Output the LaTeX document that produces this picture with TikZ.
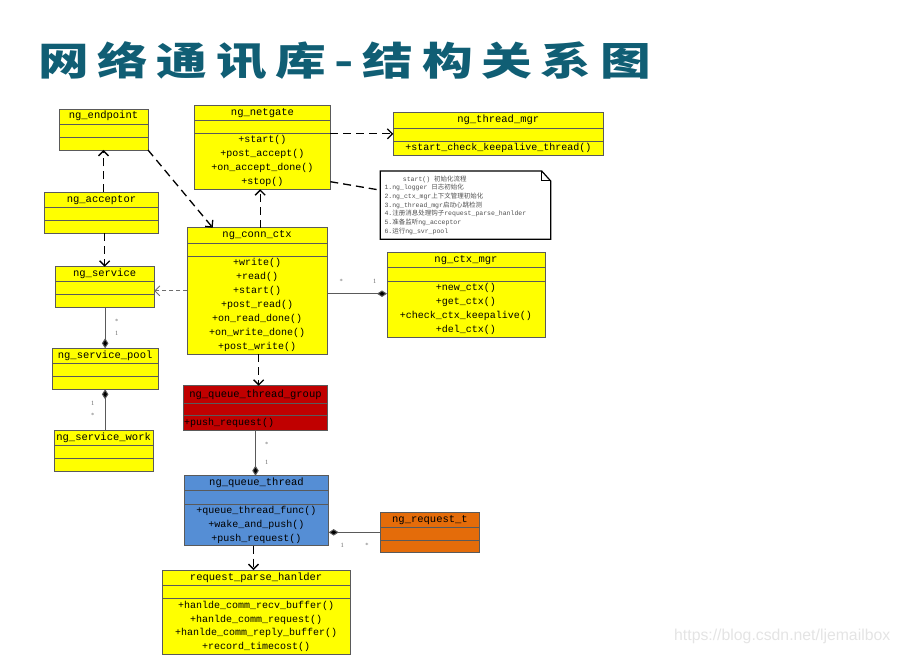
\documentclass[tikz,border=0pt]{standalone}
\usepackage{fontspec}
\setmainfont{Liberation Serif}
\newfontfamily\cjk{Noto Sans CJK SC}
\newfontfamily\titlefont{Noto Sans CJK SC}[LetterSpace=17]
\newfontfamily\monof{Liberation Mono}
\newfontfamily\wmfont{Liberation Sans}
\usetikzlibrary{arrows.meta}
\definecolor{titlecol}{RGB}{16,94,116}
\definecolor{boxline}{RGB}{90,90,90}
\definecolor{clsyellow}{RGB}{255,255,0}
\definecolor{clsred}{RGB}{192,0,0}
\definecolor{clsblue}{RGB}{85,142,213}
\definecolor{clsorange}{RGB}{228,108,10}
\definecolor{multcol}{RGB}{110,110,110}
\definecolor{notetext}{RGB}{80,80,80}
\tikzset{
  umlbox/.style={draw=boxline, line width=0.9pt, inner sep=0pt, outer sep=0pt},
  umlrule/.style={draw=boxline, line width=0.9pt},
  umlhead/.style={font=\monof\fontsize{10.5}{12}\selectfont, inner sep=0pt, text height=7.5pt, text depth=2.5pt},
  umlmeth/.style={font=\monof\fontsize{10}{12}\selectfont, inner sep=0pt, text height=7.5pt, text depth=2.5pt},
  notetxt/.style={font=\monof\fontsize{6.5}{8}\selectfont, text=notetext, inner sep=0pt, anchor=west, text height=5pt, text depth=1.5pt},
  mult/.style={font=\fontsize{6.5}{7}\selectfont, text=multcol, inner sep=0pt},
  dep/.style={draw=black, line width=1.3pt, dash pattern=on 8pt off 5pt, -{Straight Barb[length=5pt,width=10pt]}},
  depthin/.style={draw=multcol, line width=0.8pt, dash pattern=on 4pt off 3pt, -{Straight Barb[length=5pt,width=10pt]}},
  comp/.style={draw=boxline, line width=1pt, {Diamond[length=10pt,width=6.5pt,fill=black]}-},
  notelink/.style={draw=black, line width=1.3pt, dash pattern=on 8pt off 5pt},
}
\newcommand\UMLclass[9]{%
  \node[umlbox, fill=#8, minimum width={(#4)-(#2)}, minimum height={(#5)-(#3)}] (#1) at ({((#2)+(#4))/2},{((#3)+(#5))/2}) {};
  \draw[umlrule] (#2,#6) -- (#4,#6) (#2,#7) -- (#4,#7);
  \node[umlhead] (#1-h) at ({((#2)+(#4))/2},{((#3)+(#6))/2}) {#9};
}
\newcommand\UMLmethods[5]{%
  \foreach \m [count=\i from 0] in {#5} \node[umlmeth] (#1-m\i) at (#2,{#3+#4*\i}) {\m};
}
\begin{document}
\begin{tikzpicture}[x=1pt,y=-1pt]
\useasboundingbox (0,0) rectangle (900,655);

% title
\node[anchor=west, inner sep=0pt, text=titlecol, font=\titlefont\bfseries\fontsize{39}{44}\selectfont] (title) at (38,61) {\scalebox{1.3}[1]{网络通讯库-结构关系图}};

% classes
\UMLclass{ep}{59}{109}{148}{150}{124}{137}{clsyellow}{ng\_endpoint}
\UMLclass{ac}{44.7}{192.3}{158.3}{233.3}{207.3}{220.3}{clsyellow}{ng\_acceptor}
\UMLclass{sv}{55}{266.7}{154.3}{307.7}{281.7}{294.7}{clsyellow}{ng\_service}
\UMLclass{sp}{52.3}{348.3}{158}{389.3}{363.3}{376.7}{clsyellow}{ng\_service\_pool}
\UMLclass{wk}{54}{430}{153.3}{471}{445.3}{458.3}{clsyellow}{ng\_service\_work}

\UMLclass{ng}{194.7}{105.3}{330.3}{189.3}{120.3}{133.7}{clsyellow}{ng\_netgate}
\UMLmethods{ng}{262.5}{140}{13.9}{+start(),+post\_accept(),+on\_accept\_done(),+stop()}

\UMLclass{cc}{187.3}{227.7}{327}{354}{243.3}{256}{clsyellow}{ng\_conn\_ctx}
\UMLmethods{cc}{257.2}{262.7}{14}{+write(),+read(),+start(),+post\_read(),+on\_read\_done(),+on\_write\_done(),+post\_write()}

\UMLclass{tm}{393.3}{112.7}{603.3}{155}{128.3}{141.7}{clsyellow}{ng\_thread\_mgr}
\UMLmethods{tm}{498.3}{148.3}{14}{+start\_check\_keepalive\_thread()}

\UMLclass{cm}{387}{252.7}{545}{337.3}{267.7}{281}{clsyellow}{ng\_ctx\_mgr}
\UMLmethods{cm}{466}{288.3}{13.8}{+new\_ctx(),+get\_ctx(),+check\_ctx\_keepalive(),+del\_ctx()}

\UMLclass{qg}{183.3}{385.7}{327.7}{430}{403.3}{415}{clsred}{ng\_queue\_thread\_group}
\node[umlmeth, anchor=west] (qg-m0) at (184,422.5) {+push\_request()};

\UMLclass{qt}{184.3}{475.7}{328.7}{545.7}{490.7}{504}{clsblue}{ng\_queue\_thread}
\UMLmethods{qt}{256.5}{511}{14}{+queue\_thread\_func(),+wake\_and\_push(),+push\_request()}

\UMLclass{rt}{380.3}{512}{479.7}{552.7}{527}{540}{clsorange}{ng\_request\_t}

\UMLclass{rp}{162.3}{570}{350}{654.3}{585}{598.3}{clsyellow}{request\_parse\_hanlder}
\UMLmethods{rp}{256.2}{605.7}{13.8}{+hanlde\_comm\_recv\_buffer(),+hanlde\_comm\_request(),+hanlde\_comm\_reply\_buffer(),+record\_timecost()}

% note
\node[inner sep=0pt, outer sep=0pt, minimum width=170.4pt, minimum height=68.3pt] (nt) at (465.5,205.15) {};
\draw[line width=1.2pt, fill=white] (nt.north west) -- ([xshift=-9pt]nt.north east) -- ([yshift=-10pt]nt.north east) -- (nt.south east) -- (nt.south west) -- cycle;
\draw[line width=1pt] ([xshift=-9pt]nt.north east) -- ([xshift=-9pt,yshift=-10pt]nt.north east) -- ([yshift=-10pt]nt.north east);
\node[notetxt] (n0) at (402.7,179.3) {start() {\cjk 初始化流程}};
\node[notetxt] (n1) at (384.3,188) {1.ng\_logger {\cjk 日志初始化}};
\node[notetxt] (n2) at (384.3,196.7) {2.ng\_ctx\_mgr{\cjk 上下文管理初始化}};
\node[notetxt] (n3) at (384.3,205.3) {3.ng\_thread\_mgr{\cjk 启动心跳检测}};
\node[notetxt] (n4) at (384.3,214) {4.{\cjk 注册消息处理钩子}request\_parse\_hanlder};
\node[notetxt] (n5) at (384.3,222.7) {5.{\cjk 准备监听}ng\_acceptor};
\node[notetxt] (n6) at (384.3,231.3) {6.{\cjk 运行}ng\_svr\_pool};

% connectors
\draw[dep] (ac.north -| ep.south) -- (ep.south);
\draw[dep] (ep.south east) -- ([xshift=25.4pt]cc.north west);
\draw[dep] ([xshift=3pt]cc.north) -- ([xshift=3pt]cc.north |- ng.south);
\draw[dep] (ac.south -| sv.north) -- (sv.north);
\draw[depthin] (cc.west) -- (cc.west -| sv.east);
\draw[comp] (sp.north) -- (sp.north |- sv.south);
\draw[comp] (sp.south) -- (sp.south |- wk.north);
\draw[dep] ([xshift=1.5pt]cc.south) -- ([xshift=1.5pt]cc.south |- qg.north);
\draw[comp] (qt.north -| qg.south) -- (qg.south);
\draw[dep] ([xshift=-3pt]qt.south) -- ([xshift=-3pt]qt.south |- rp.north);
\draw[comp] (qt.east |- rt.west) -- (rt.west);
\draw[dep] (ng.east |- tm.west) -- (tm.west);
\draw[notelink] ([yshift=-34.4pt]ng.east) -- ([yshift=15pt]nt.west);
\draw[comp] ([yshift=1.3pt]cm.west) -- ([yshift=1.3pt]cm.west -| cc.east);

% multiplicities
\node[mult] (m1) at (116.7,321.7) {*};
\node[mult] (m2) at (116.7,333.3) {1};
\node[mult] (m3) at (92.7,403.3) {1};
\node[mult] (m4) at (92.7,415.3) {*};
\node[mult] (m5) at (266.7,444) {*};
\node[mult] (m6) at (266.7,462.7) {1};
\node[mult] (m7) at (342.3,545) {1};
\node[mult] (m8) at (367,545) {*};
\node[mult] (m9) at (341.3,281.7) {*};
\node[mult] (m10) at (374.7,281.7) {1};

% watermark
\node[anchor=west, inner sep=0pt, text={rgb,255:red,228;green,228;blue,228}, font=\wmfont\fontsize{15.8}{17}\selectfont] (wm) at (674,636) {https://blog.csdn.net/ljemailbox};
\end{tikzpicture}
\end{document}
